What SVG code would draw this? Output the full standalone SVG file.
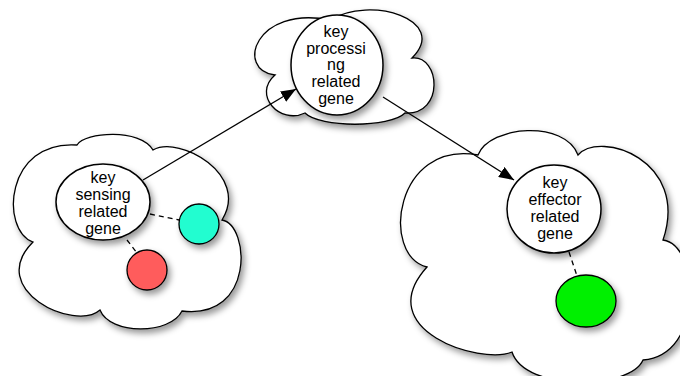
<svg xmlns="http://www.w3.org/2000/svg" width="680" height="376" viewBox="0 0 680 376">
<defs>
<filter id="sh" x="-20%" y="-20%" width="150%" height="150%">
<feDropShadow dx="3" dy="4" stdDeviation="3" flood-color="#000" flood-opacity="0.4"/>
</filter>
<marker id="arr" markerUnits="userSpaceOnUse" markerWidth="16" markerHeight="12" refX="15" refY="6" orient="auto">
<path d="M0,0 L15,6 L0,12 Z" fill="#000"/>
</marker>
<style>
.cloud{fill:#fff;stroke:#000;stroke-width:1.3;filter:url(#sh)}
.node{fill:#fff;stroke:#000;stroke-width:1.5;filter:url(#sh)}
.dot{stroke:#000;stroke-width:1.3;filter:url(#sh)}
.lbl{font-family:"Liberation Sans",Arial,sans-serif;font-size:16px;fill:#000;text-anchor:middle}
.arrow{stroke:#000;stroke-width:1.3;fill:none;marker-end:url(#arr)}
.dash{stroke:#000;stroke-width:1.3;fill:none;stroke-dasharray:5,4}
</style>
</defs>
<rect width="680" height="376" fill="#fff"/>

<g id="cloud-sensing">
<path class="cloud" d="M77,145 C85,132 140,128 153,150 C180,135 250,175 222,220 C250,225 255,320 182,311 C170,335 110,335 100,310 C75,332 -15,290 33,242 C0,230 5,140 77,145 Z"/>
</g>
<g id="cloud-processing">
<path class="cloud" d="M275,75 C235,70 255,5 330,20 C370,-5 450,20 412,58 C440,55 445,115 405,113 C390,128 320,128 305,113 C280,125 252,95 275,75 Z"/>
</g>
<g id="cloud-effector">
<path class="cloud" d="M478,155 C490,125 565,120 578,155 C600,130 690,160 663,240 C700,245 705,355 643,360 C630,390 525,392 512,352 C480,365 370,330 427,267 C380,255 395,140 478,155 Z"/>
</g>

<g id="connectors">
<line class="arrow" x1="143" y1="180" x2="296" y2="89"/>
<line class="arrow" x1="383" y1="97" x2="514" y2="180"/>
<line class="dash" x1="150" y1="214" x2="179" y2="220"/>
<line class="dash" x1="127" y1="240" x2="137" y2="253"/>
<line class="dash" x1="569" y1="252" x2="577" y2="276"/>
</g>

<g id="node-sensing">
<ellipse class="node" cx="103" cy="202" rx="47" ry="38"/>
<text class="lbl" x="103" y="183">key</text>
<text class="lbl" x="103" y="200">sensing</text>
<text class="lbl" x="103" y="217">related</text>
<text class="lbl" x="103" y="234">gene</text>
</g>
<g id="dot-cyan">
<circle class="dot" cx="199" cy="224" r="20" fill="#20FDD0"/>
</g>
<g id="dot-red">
<circle class="dot" cx="147" cy="270" r="20" fill="#FF5B5B"/>
</g>

<g id="node-processing">
<ellipse class="node" cx="337" cy="65" rx="46" ry="50"/>
<text class="lbl" x="336" y="37">key</text>
<text class="lbl" x="336" y="54">processi</text>
<text class="lbl" x="336" y="70">ng</text>
<text class="lbl" x="336" y="87">related</text>
<text class="lbl" x="336" y="104">gene</text>
</g>

<g id="node-effector">
<ellipse class="node" cx="554" cy="209" rx="47" ry="44"/>
<text class="lbl" x="555" y="188">key</text>
<text class="lbl" x="555" y="205">effector</text>
<text class="lbl" x="555" y="222">related</text>
<text class="lbl" x="555" y="239">gene</text>
</g>
<g id="dot-green">
<ellipse class="dot" cx="586" cy="301" rx="30" ry="26" fill="#00F000"/>
</g>
</svg>
